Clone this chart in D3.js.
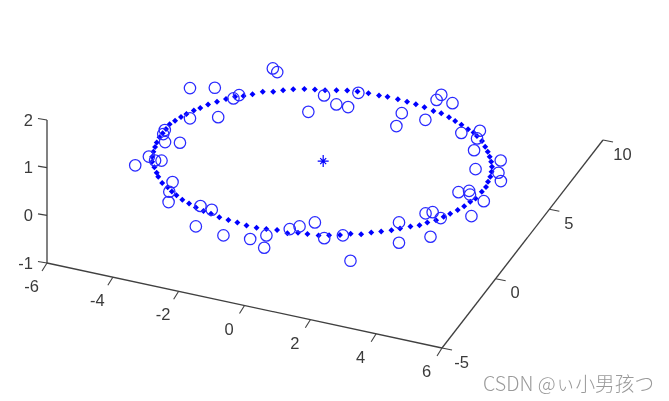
<!DOCTYPE html>
<html><head><meta charset="utf-8">
<script src="https://cdn.jsdelivr.net/npm/d3@7"></script>
<style>html,body{margin:0;padding:0;background:#fff}svg{display:block}</style>
</head><body><svg id="c" width="669" height="401"></svg>
<script>
const xTicks=[-6,-4,-2,0,2,4,6];
const yTicks=[-5,0,5,10];
const zTicks=[-1,0,1,2];
const planeZ=1;
const centerPoint=[1.06,-0.92];
const circleX=[-3.88,-3.24,-2.12,-1.93,-3.27,-2.56,-2.54,-2.46,-0.32,-3.69,-3.65,-3.44,-3.04,-3.75,-3.57,-3.33,-3.16,-2.44,-2.33,-2.14,-1.23,-0.86,-0.94,-0.04,0.73,1.08,1.27,1.56,1.76,2.08,2.64,3.07,3.78,4.27,4.68,4.78,4.94,5.27,5.38,6.03,6.05,5.21,5.46,5.56,6.09,5.86,5.67,5.19,4.77,4.61,4.53,4.09,2.89,3.26,2.78,2.80,2.14,2.26,0.60,0.62,0.26,-0.24];
const circleY=[1.82,2.17,4.14,3.97,-0.05,0.40,1.76,2.04,1.93,-1.11,-1.38,-1.85,-1.69,-3.68,-2.96,-3.12,-3.04,-4.22,-4.86,-5.51,-5.33,-5.41,-6.65,-6.84,-6.71,-6.27,-7.06,-5.57,-5.27,-4.82,-5.67,-5.25,-6.72,-3.70,-4.96,-2.79,-2.62,-2.88,-4.17,-2.35,-1.26,-1.04,-0.82,-1.04,0.21,0.69,1.48,0.61,1.76,2.53,3.04,2.66,2.99,4.38,4.37,4.75,3.09,2.22,3.77,2.75,2.76,3.15];
const ringX=[-0.60,-0.88,-1.17,-1.41,-1.64,-1.91,-2.13,-2.33,-2.53,-2.72,-2.90,-3.08,-3.21,-3.33,-3.45,-3.53,-3.61,-3.68,-3.68,-3.68,-3.68,-3.65,-3.60,-3.55,-3.48,-3.38,-3.21,-3.04,-2.92,-2.69,-2.46,-2.27,-2.07,-1.83,-1.58,-1.32,-1.05,-0.80,-0.51,-0.22,0.06,0.36,0.67,0.95,1.25,1.58,1.85,2.12,2.44,2.71,2.99,3.24,3.52,3.75,3.99,4.23,4.42,4.65,4.86,5.01,5.19,5.32,5.43,5.55,5.64,5.71,5.78,5.81,5.82,5.77,5.73,5.66,5.57,5.45,5.31,5.16,4.99,4.79,4.56,4.40,4.19,3.93,3.69,3.45,3.17,2.92,2.61,2.33,2.05,1.76,1.44,1.19,0.87,0.55,0.26,-0.02,-0.32];
const ringY=[3.40,3.28,3.13,2.92,2.70,2.56,2.28,2.05,1.88,1.62,1.33,1.05,0.72,0.49,0.17,-0.09,-0.40,-0.69,-1.03,-1.34,-1.63,-1.98,-2.29,-2.60,-2.93,-3.24,-3.55,-3.86,-4.08,-4.42,-4.61,-4.81,-4.99,-5.18,-5.32,-5.48,-5.60,-5.67,-5.78,-5.83,-5.85,-5.92,-5.93,-5.88,-5.80,-5.85,-5.69,-5.64,-5.58,-5.43,-5.27,-5.05,-4.93,-4.69,-4.50,-4.28,-4.06,-3.80,-3.60,-3.33,-3.07,-2.76,-2.49,-2.16,-1.83,-1.48,-1.20,-0.71,-0.35,-0.01,0.33,0.66,0.97,1.27,1.56,1.84,2.12,2.44,2.67,2.85,2.98,3.16,3.31,3.47,3.61,3.65,3.76,3.82,3.86,3.89,3.91,3.88,3.88,3.84,3.77,3.63,3.49];
const watermark="CSDN @ぃ小男孩つ";

const BLUE="#0000ff", AXIS="#404040", TXT="#3a3a3a";
const X0=47,Y0=263;
const xPx=d3.scaleLinear().domain([-6,6]).range([0,395]);
const xPy=d3.scaleLinear().domain([-6,6]).range([0,85]);
const yPx=d3.scaleLinear().domain([-5,10]).range([0,161]);
const yPy=d3.scaleLinear().domain([-5,10]).range([0,-208]);
const zPy=d3.scaleLinear().domain([-1,2]).range([0,-143]);
const px=(x,y)=>X0+xPx(x)+yPx(y);
const py=(x,y,z)=>Y0+xPy(x)+yPy(y)+zPy(z);

const svg=d3.select("#c");
const defs=svg.append("defs");
defs.append("filter").attr("id","soft").append("feGaussianBlur").attr("stdDeviation",0.4);
const g=svg.append("g").attr("filter","url(#soft)");

// axes
const line=(a,b,c,d,w=1.3)=>g.append("line").attr("x1",a).attr("y1",b).attr("x2",c).attr("y2",d).attr("stroke",AXIS).attr("stroke-width",w);
line(px(-6,-5),py(-6,-5,-1),px(6,-5),py(6,-5,-1));
line(px(6,-5),py(6,-5,-1),px(6,10),py(6,10,-1));
line(px(-6,-5),py(-6,-5,-1),px(-6,-5),py(-6,-5,2));
const label=(t,x,y,anchor="middle")=>g.append("text").text(t).attr("x",x).attr("y",y).attr("text-anchor",anchor)
  .attr("dominant-baseline","central").attr("font-family","Liberation Sans, Arial, sans-serif").attr("font-size",16.5).attr("fill",TXT);
xTicks.forEach(t=>{const a=px(t,-5),b=py(t,-5,-1);line(a,b,a-5,b+8,1.1);label(t,a-15.5,b+23);});
yTicks.forEach(t=>{const a=px(6,t),b=py(6,t,-1);line(a,b,a+10,b+2,1.1);label(t,a+19.5,b+13.5);});
zTicks.forEach(t=>{const a=px(-6,-5),b=py(-6,-5,t);line(a,b,a-9,b-1.5,1.1);label(t,33,b-0.5,"end");});

// data marks
const dot=d3.symbol().type(d3.symbolSquare).size(18);
g.append("g").selectAll("path").data(d3.range(ringX.length)).join("path")
  .attr("d",dot).attr("fill",BLUE)
  .attr("transform",i=>`translate(${px(ringX[i],ringY[i])},${py(ringX[i],ringY[i],planeZ)}) rotate(45)`);
g.append("g").selectAll("circle").data(d3.range(circleX.length)).join("circle")
  .attr("cx",i=>px(circleX[i],circleY[i])).attr("cy",i=>py(circleX[i],circleY[i],planeZ))
  .attr("r",5.7).attr("fill","none").attr("stroke","#2a2aff").attr("stroke-width",1.25);
const sx=px(...centerPoint),sy=py(centerPoint[0],centerPoint[1],planeZ);
g.append("path").attr("d",`M${sx-5.5},${sy}H${sx+5.5}M${sx},${sy-6}V${sy+6}M${sx-3},${sy-3}L${sx+3},${sy+3}M${sx-3},${sy+3}L${sx+3},${sy-3}`).attr("stroke",BLUE).attr("stroke-width",1.2);

svg.append("text").text(watermark).attr("x",483).attr("y",382).attr("dominant-baseline","central")
  .attr("font-family","Noto Sans CJK SC, Liberation Sans, sans-serif").attr("font-size",19.7).attr("font-weight",300).attr("fill","#9a9a9a");
</script></body></html>
